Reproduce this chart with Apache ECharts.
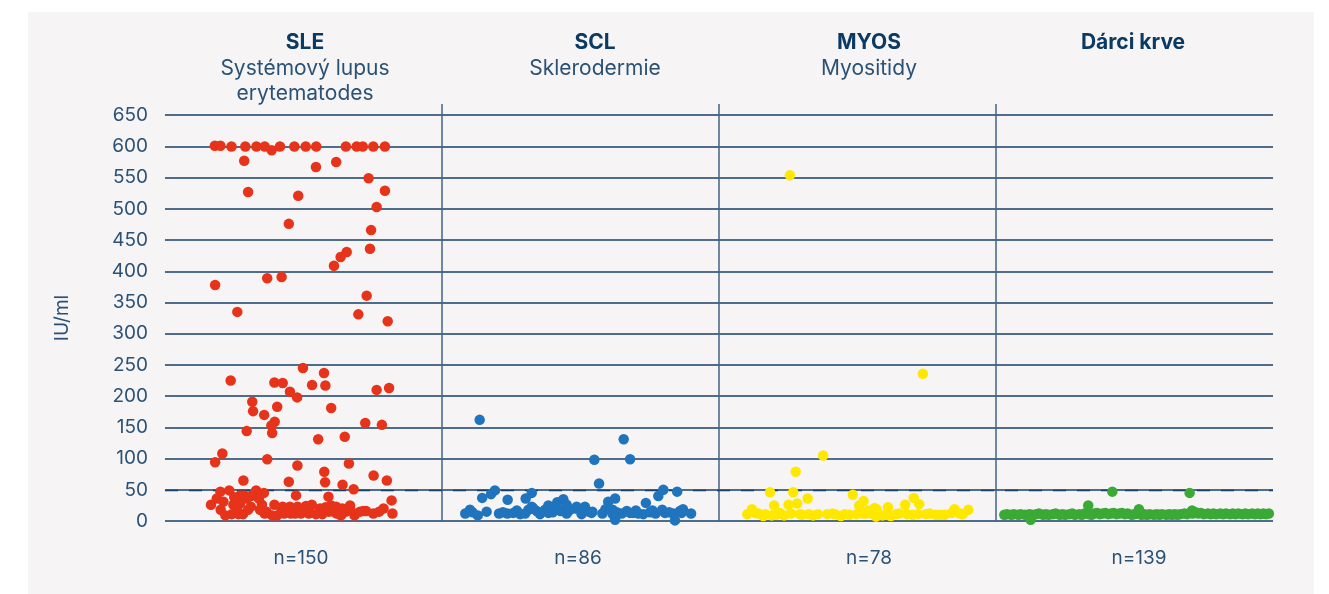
<!DOCTYPE html>
<html><head><meta charset="utf-8">
<script src="https://cdn.jsdelivr.net/npm/echarts@6/dist/echarts.min.js"></script>
<style>
html,body{margin:0;padding:0;background:#ffffff;width:1329px;height:594px;overflow:hidden}
#chart{position:absolute;left:28px;top:12px;width:1286px;height:582px;}
</style>
</head><body><div id="chart"></div>
<script>
// ---------- DATA ----------
const categories = ['SLE', 'SCL', 'MYOS', 'Dárci krve'];
const subtitles = [['Systémový lupus', 'erytematodes'], ['Sklerodermie'], ['Myositidy'], []];
const counts = ['n=150', 'n=86', 'n=78', 'n=139'];
const yTickMax = 650;
const yTickStep = 50;
const thresholdValue = 50;
const axisTitle = 'IU/ml';

// each point: [position within group (0..1), IU/ml]
const slePoints = [
  [0.18,601],[0.20,601],[0.24,600],[0.29,600],[0.33,600],[0.36,600],[0.385,594],[0.415,600],[0.467,600],[0.508,600],
  [0.546,600],[0.653,600],[0.692,600],[0.714,600],[0.752,600],[0.794,600],
  [0.286,577],[0.300,527],[0.545,567],[0.618,575],[0.735,549],[0.794,529],[0.481,521],[0.764,503],[0.447,476],
  [0.744,466],[0.740,436],[0.656,431],[0.634,423],[0.610,409],[0.369,389],[0.421,391],[0.181,378],[0.728,361],
  [0.261,335],[0.698,331],[0.804,320],
  [0.498,245],[0.574,237],[0.237,225],[0.395,222],[0.425,221],[0.531,218],[0.579,217],[0.809,213],[0.764,210],
  [0.451,207],[0.477,198],[0.315,191],[0.405,183],[0.600,181],[0.318,176],[0.358,170],[0.723,157],[0.396,159],
  [0.783,154],[0.384,153],[0.295,144],[0.387,141],[0.649,135],[0.553,131],[0.207,108],[0.369,99],[0.181,94],
  [0.664,92],[0.478,89],[0.575,79],[0.753,73],[0.283,65],[0.447,63],[0.578,62],[0.801,65],[0.641,58],[0.681,51],
  [0.200,47],[0.232,49],[0.329,49],[0.357,45],[0.473,41],[0.590,39],[0.271,41],[0.286,41],[0.295,36],[0.339,36],
  [0.187,36],[0.818,33],[0.211,31],[0.166,26],[0.247,26],[0.271,28],[0.310,23],[0.395,26],[0.425,23],[0.451,23],
  [0.479,23],[0.509,24],[0.530,26],[0.600,25],[0.618,23],[0.668,25],[0.201,18],[0.343,18],[0.367,15],[0.716,16],
  [0.726,16],[0.789,20],[0.773,15],[0.218,9],[0.241,11],[0.265,11],[0.282,11],[0.387,9],[0.405,9],[0.430,12],
  [0.454,12],[0.491,12],[0.519,12],[0.545,11],[0.568,11],[0.591,15],[0.608,15],[0.635,9],[0.653,15],[0.684,9],
  [0.704,15],[0.752,12],[0.821,12],
  [0.30,18],[0.36,12],[0.44,18],[0.50,18],[0.56,20],[0.62,12],[0.67,18],[0.42,15],[0.52,15],[0.58,22],
  [0.64,20],[0.47,12],[0.26,20],[0.35,26],[0.31,40],[0.25,38]
];
const sclPoints = [
  [0.136,162],[0.656,131],[0.550,98],[0.679,99],[0.567,60],[0.191,49],[0.177,43],[0.145,37],[0.324,45],[0.302,36],
  [0.237,34],[0.799,50],[0.849,47],[0.781,40],[0.438,35],[0.416,30],[0.625,36],[0.600,31],[0.736,29],[0.384,25],
  [0.324,23],[0.486,23],[0.516,23],[0.101,18],[0.161,15],[0.084,12],[0.129,9],
  [0.206,12],[0.236,12],[0.257,13],[0.282,11],[0.300,12],[0.354,11],[0.384,13],[0.450,12],[0.504,11],[0.540,13],
  [0.579,12],[0.616,11],[0.649,12],[0.679,13],[0.709,12],[0.727,11],[0.771,12],[0.805,13],[0.835,12],[0.865,13],
  [0.899,12],[0.625,2],[0.841,1],
  [0.312,18],[0.330,20],[0.342,16],[0.372,18],[0.414,22],[0.428,16],[0.483,20],[0.516,17],[0.543,15],[0.616,18],
  [0.631,14],[0.667,16],[0.700,17],[0.751,14],[0.795,18],[0.859,16],
  [0.22,14],[0.27,17],[0.40,14],[0.46,17],[0.53,15],[0.59,19],[0.69,13],[0.76,17],[0.82,14],[0.87,19],[0.11,14],[0.45,26]
];
const myosPoints = [
  [0.256,554],[0.736,236],[0.376,105],[0.277,79],[0.184,46],[0.268,46],[0.483,42],[0.320,36],[0.703,37],[0.522,32],
  [0.723,27],[0.672,26],[0.199,25],[0.251,26],[0.282,28],[0.506,25],[0.610,22],[0.562,21],[0.119,19],[0.850,19],
  [0.900,18],
  [0.102,11],[0.142,12],[0.168,11],[0.206,10],[0.235,9],[0.292,11],[0.324,11],[0.357,11],[0.391,11],[0.419,11],
  [0.454,11],[0.497,11],[0.531,12],[0.603,10],[0.639,11],[0.679,11],[0.718,11],[0.747,11],[0.783,10],[0.815,10],
  [0.870,12],[0.567,7],
  [0.13,13],[0.19,9],[0.26,12],[0.34,9],[0.41,12],[0.47,10],[0.55,12],[0.59,9],[0.65,12],[0.70,10],
  [0.76,12],[0.80,10],[0.84,13],[0.88,11],[0.16,8],[0.22,13],[0.30,10],[0.44,8],[0.62,8],[0.52,12],[0.539,17],[0.569,19]
];
const donorPoints = [
  [0.03,10],[0.04,11],[0.055,10],[0.065,11],[0.08,10],[0.09,11],[0.105,10],[0.12,11],[0.13,10],[0.145,11],
  [0.155,12],[0.17,10],[0.18,11],[0.19,10],[0.205,11],[0.215,12],[0.23,10],[0.24,11],[0.25,10],[0.265,11],
  [0.275,12],[0.285,10],[0.30,11],[0.31,10],[0.32,12],[0.335,11],[0.345,10],[0.355,12],[0.365,13],[0.375,11],
  [0.385,12],[0.395,13],[0.405,11],[0.415,12],[0.425,13],[0.435,11],[0.445,12],[0.455,13],[0.465,11],[0.475,12],
  [0.49,10],[0.50,11],[0.51,12],[0.525,10],[0.535,11],[0.545,10],[0.555,11],[0.57,10],[0.58,11],[0.59,10],
  [0.60,11],[0.615,10],[0.625,11],[0.635,10],[0.645,11],[0.655,10],[0.665,11],[0.68,12],[0.69,11],[0.70,13],
  [0.71,12],[0.72,14],[0.73,12],[0.74,13],[0.75,11],[0.765,12],[0.775,11],[0.785,12],[0.795,11],[0.81,12],
  [0.82,11],[0.83,12],[0.845,11],[0.855,12],[0.865,11],[0.875,12],[0.89,11],[0.90,12],[0.91,11],[0.925,12],
  [0.935,11],[0.945,12],[0.955,11],[0.965,12],[0.975,11],[0.985,12],
  [0.42,47],[0.699,45],[0.333,25],[0.516,19],[0.708,17],[0.125,2]
];
const groups = [slePoints, sclPoints, myosPoints, donorPoints];

// ---------- STYLE / LAYOUT ----------
const colors = ['#e6331a', '#1f74bd', '#ffe800', '#3aa935'];
const gridColor = '#163f68';
const sepColor = '#3f6388';
const labelColor = '#2b5275';
const titleColor = '#0b3a63';
const FONT = 'Inter, "Noto Sans", sans-serif';
const OX = 28, OY = 12; // chart div offset within page
const titleX = [305, 595, 869, 1133];
const countX = [301, 578, 869, 1139];
const yTopPad = 668; // axis extent a bit above the last tick so separators overshoot

const chart = echarts.init(document.getElementById('chart'), null, {renderer: 'canvas'});

const graphics = [];
categories.forEach((c, i) => {
  graphics.push({type: 'text', x: titleX[i] - OX, y: 42.5 - OY,
    style: {text: c, fill: titleColor, font: '700 21px ' + FONT, align: 'center', verticalAlign: 'middle'}});
  subtitles[i].forEach((s, j) => {
    graphics.push({type: 'text', x: titleX[i] - OX, y: 68.5 - OY + j * 25,
      style: {text: s, fill: labelColor, font: '400 21px ' + FONT, align: 'center', verticalAlign: 'middle'}});
  });
  graphics.push({type: 'text', x: countX[i] - OX, y: 558 - OY,
    style: {text: counts[i], fill: labelColor, font: '400 19px ' + FONT, align: 'center', verticalAlign: 'middle'}});
});
graphics.push({type: 'text', x: 62 - OX, y: 318 - OY, rotation: Math.PI / 2,
  style: {text: axisTitle, fill: labelColor, font: '400 19px ' + FONT, align: 'center', verticalAlign: 'middle'}});

const series = groups.map((pts, gi) => ({
  type: 'scatter',
  name: categories[gi],
  symbolSize: 10.5,
  itemStyle: {color: colors[gi], opacity: 1},
  data: pts.map(p => [gi + p[0], p[1]]),
  silent: true,
  z: 3
}));
series[0].markLine = {
  silent: true, symbol: 'none', label: {show: false},
  lineStyle: {color: gridColor, width: 1.3, type: [13, 11]},
  data: [{yAxis: thresholdValue}],
  z: 2
};

chart.setOption({
  backgroundColor: '#f6f4f5',
  animation: false,
  textStyle: {fontFamily: FONT},
  grid: {left: 165 - OX, right: 1314 - 1273, top: 104 - OY, bottom: 582 - (521 - OY)},
  xAxis: {
    type: 'value', min: 0, max: categories.length, interval: 1,
    axisLine: {show: false}, axisTick: {show: false}, axisLabel: {show: false},
    splitLine: {show: true, showMinLine: false, showMaxLine: false, lineStyle: {color: sepColor, width: 1.5}}
  },
  yAxis: {
    type: 'value', min: 0, max: yTopPad, interval: yTickStep,
    axisLine: {show: false}, axisTick: {show: false},
    axisLabel: {showMaxLabel: false, color: labelColor, fontSize: 19, fontFamily: FONT, margin: 17,
      formatter: v => (v % yTickStep === 0 && v <= yTickMax) ? String(v) : ''},
    splitLine: {show: true, showMaxLine: false, lineStyle: {color: gridColor, width: 1.5}}
  },
  graphic: graphics,
  series: series
});
</script>
</body></html>
